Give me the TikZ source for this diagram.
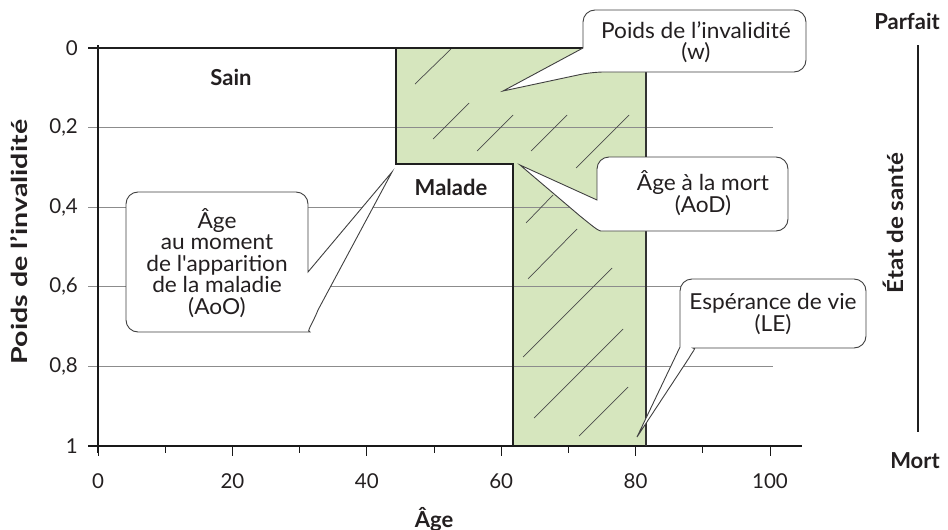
\documentclass[tikz,border=0pt]{standalone}
\usepackage{fontspec}
\setmainfont{Lato}
\newfontfamily\calfont[FakeStretch=1.03]{Lato}
\newfontfamily\titfont[FakeStretch=1.3]{Lato}
\newfontfamily\etatfont[FakeStretch=1.1]{Lato}
\definecolor{grfill}{RGB}{214,230,190}
\definecolor{txt}{RGB}{35,31,32}
\begin{document}
\begin{tikzpicture}[x=1pt,y=-1pt,
  lab/.style={font=\calfont\fontsize{22}{21.5}\selectfont, text=txt, inner sep=0pt, align=center},
  ticklab/.style={font=\fontsize{20.5}{22}\selectfont, text=txt, inner sep=0pt},
  blab/.style={font=\fontsize{22}{22}\selectfont\bfseries, text=txt, inner sep=0pt},
  tlab/.style={font=\titfont\fontsize{22}{22}\selectfont\bfseries, text=txt, inner sep=0pt},
  elab/.style={font=\etatfont\fontsize{22}{22}\selectfont\bfseries, text=txt, inner sep=0pt},
  callout/.style={draw=black!75, line width=0.9pt, fill=white},
  gridl/.style={draw=black!45, line width=0.8pt},
  hatch/.style={draw=black!70, line width=0.7pt},
  thickb/.style={draw=black!88, line width=2.6pt},
  axisl/.style={draw=black!90, line width=1.3pt},
]
\useasboundingbox (0,0) rectangle (948,530);

% green area
\fill[grfill] (396,48) -- (646,48) -- (646,446) -- (513,446) -- (513,164) -- (396,164) -- cycle;

% grid lines
\foreach \yy in {127.6,207.2,286.8,366.4}
  \draw[gridl] (88,\yy) -- (773,\yy);

% hatch lines
\foreach \a/\b/\c/\d in {415/84/451/49, 433/139/469/103, 477/151/513/115, 531/151/567/115,
  576/168/629/115, 526/223/553/195, 528/279/577/229, 523/357/612/268, 534/418/623/329, 579/436/628/387}
  \draw[hatch] (\a,\b) -- (\c,\d);

% axes
\draw[axisl] (98,45) -- (98,453);
\draw[axisl] (88,446) -- (802,446);
\foreach \v in {0,20,40,60,80,100}
  \draw[axisl, line width=1pt] ({98+6.72*\v},446) -- ({98+6.72*\v},456);
\foreach \v in {10,30,50,70,90}
  \draw[axisl, line width=1pt] ({98+6.72*\v},446) -- ({98+6.72*\v},453);

% boundaries
\draw[thickb] (88,48) -- (396,48) -- (396,164) -- (513,164) -- (513,446);
\draw[thickb] (396,48) -- (646,48);
\draw[draw=black!80, line width=1.6pt] (646,48) -- (646,446);

% right scale
\draw[thickb] (918,45) -- (918,432);

% tick labels
\node[ticklab, anchor=east] (y0) at (78,48) {0};
\node[ticklab, anchor=east] (y2) at (78,127.6) {0,2};
\node[ticklab, anchor=east] (y4) at (78,207.2) {0,4};
\node[ticklab, anchor=east] (y6) at (78,286.8) {0,6};
\node[ticklab, anchor=east] (y8) at (78,366.4) {0,8};
\node[ticklab, anchor=east] (y10) at (78,446) {1};
\foreach \v in {0,20,40,60,80,100}
  \node[ticklab] (x\v) at ({98+6.72*\v},481) {\v};

% titles
\node[blab] (xt) at (434,519) {Âge};
\node[tlab, rotate=90] (yt) at (19,242) {Poids de l’invalidité};
\node[blab] (sain) at (231,77) {Sain};
\node[blab] (malade) at (451,187) {Malade};
\node[blab] (parfait) at (907,21) {Parfait};
\node[blab] (mort) at (915,461) {Mort};
\node[elab, rotate=90] (etat) at (893,223) {État de santé};

% callouts
\draw[callout] (503,91) -- (583,48) [rounded corners=12pt] -- (583,10) -- (806,10) -- (806,72) -- (592,72) [sharp corners] -- cycle;
\node[lab] (w) at (696,42) {Poids de l’invalidité\\(w)};

\draw[callout] (520,165) -- (597,200) [rounded corners=12pt] -- (597,157) -- (788,157) -- (788,231) -- (613,231) [sharp corners] .. controls (598,231) and (590,224) .. (580,216) -- cycle;
\node[lab] (aod) at (703,193) {Âge à la mort\\(AoD)};

\draw[callout] (392,172) -- (308,272) [rounded corners=12pt] -- (308,192) -- (126,192) -- (126,332) -- (298,332) [sharp corners] .. controls (306,332) and (312,325) .. (318,310) -- cycle;
\node[lab] (aoo) at (217,263) {Âge\\au moment\\de l\textquotesingle apparition\\de la maladie\\(AoO)};

\draw[callout] (637,437) -- (680,347) [rounded corners=12pt] -- (680,279) -- (866,279) -- (866,348) -- (705,348) [sharp corners] .. controls (697,348) and (692,352) .. (689,358) -- cycle;
\node[lab] (le) at (773,314) {Espérance de vie\\(LE)};
\end{tikzpicture}
\end{document}
